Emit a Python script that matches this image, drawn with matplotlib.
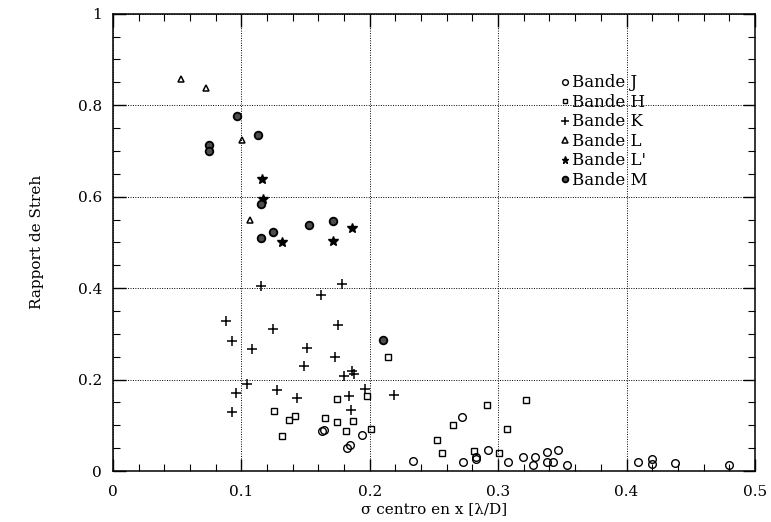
import matplotlib
matplotlib.use("Agg")
import matplotlib.pyplot as plt
from matplotlib.ticker import MultipleLocator

# Données (sigma centro en x, rapport de Strehl)
j_x = [0.163, 0.164, 0.194, 0.1844, 0.1826, 0.2716, 0.234, 0.273, 0.283, 0.283,
       0.292, 0.308, 0.319, 0.329, 0.327, 0.338, 0.347, 0.338, 0.343, 0.354,
       0.4086, 0.4197, 0.4197, 0.438, 0.48]
j_y = [0.0875, 0.09, 0.078, 0.056, 0.051, 0.119, 0.022, 0.020, 0.026, 0.030,
       0.047, 0.019, 0.030, 0.031, 0.013, 0.041, 0.046, 0.0197, 0.0197, 0.0125,
       0.0197, 0.027, 0.0153, 0.018, 0.013]

h_x = [0.1255, 0.137, 0.142, 0.132, 0.1655, 0.1746, 0.1746, 0.1873, 0.1816, 0.198,
       0.201, 0.214, 0.291, 0.265, 0.2527, 0.256, 0.281, 0.301, 0.3066, 0.3214]
h_y = [0.131, 0.1115, 0.120, 0.077, 0.116, 0.158, 0.107, 0.109, 0.0875, 0.163,
       0.0925, 0.250, 0.144, 0.1007, 0.067, 0.039, 0.044, 0.039, 0.091, 0.155]

k_x = [0.088, 0.093, 0.108, 0.104, 0.0955, 0.093, 0.115, 0.178, 0.162, 0.125,
       0.175, 0.151, 0.173, 0.149, 0.186, 0.1875, 0.180, 0.128, 0.1434, 0.196,
       0.1837, 0.185, 0.219]
k_y = [0.329, 0.285, 0.266, 0.191, 0.170, 0.128, 0.405, 0.408, 0.385, 0.311,
       0.319, 0.268, 0.250, 0.230, 0.219, 0.212, 0.208, 0.177, 0.159, 0.179,
       0.163, 0.1335, 0.166]

l_x = [0.0529, 0.0721, 0.1004, 0.107]
l_y = [0.858, 0.837, 0.724, 0.548]

lp_x = [0.116, 0.117, 0.186, 0.1315, 0.171]
lp_y = [0.639, 0.595, 0.531, 0.500, 0.503]

m_x = [0.0967, 0.113, 0.0745, 0.0745, 0.115, 0.153, 0.171, 0.125, 0.115, 0.21]
m_y = [0.777, 0.735, 0.713, 0.700, 0.584, 0.538, 0.546, 0.522, 0.509, 0.287]

x_ticks = [0, 0.1, 0.2, 0.3, 0.4, 0.5]
x_labels = ["0", "0.1", "0.2", "0.3", "0.4", "0.5"]
y_ticks = [0, 0.2, 0.4, 0.6, 0.8, 1]
y_labels = ["0", "0.2", "0.4", "0.6", "0.8", "1"]

plt.rcParams['font.family'] = ['DejaVu Serif']

fig = plt.figure(figsize=(7.71, 5.22), dpi=100)
ax = fig.add_axes([0.1466, 0.0977, 0.8325, 0.876])

ax.plot(j_x, j_y, 'o', mfc='none', mec='black', ms=5.5, mew=1.0, label="Bande J")
ax.plot(h_x, h_y, 's', mfc='none', mec='black', ms=4.5, mew=1.0, label="Bande H")
ax.plot(k_x, k_y, '+', color='black', ms=7.5, mew=1.1, label="Bande K")
ax.plot(l_x, l_y, '^', mfc='none', mec='black', ms=5, mew=1.1, label="Bande L")
ax.plot(lp_x, lp_y, '*', color='black', ms=7, label="Bande L'")
ax.plot(m_x, m_y, 'o', mfc='0.3', mec='black', ms=5.5, mew=1.3, label="Bande M")

ax.set_xlim(0, 0.5)
ax.set_ylim(0, 1)
ax.set_xticks(x_ticks)
ax.set_xticklabels(x_labels)
ax.set_yticks(y_ticks)
ax.set_yticklabels(y_labels)
ax.xaxis.set_minor_locator(MultipleLocator(0.02))
ax.yaxis.set_minor_locator(MultipleLocator(0.05))
ax.tick_params(which='both', direction='in', top=True, right=True, labelsize=11)
ax.tick_params(which='major', length=9, width=1)
ax.tick_params(which='minor', length=5, width=0.8)
ax.tick_params(axis='x', which='major', pad=10)
ax.tick_params(axis='y', which='major', pad=8)
for s in ax.spines.values():
    s.set_linewidth(1.1)

ax.grid(True, which='major', linestyle=(0, (1, 1.5)), color='black', linewidth=0.7)

ax.set_xlabel("σ centro en x [λ/D]", fontsize=11, labelpad=2)
ax.set_ylabel("Rapport de Streh", fontsize=11, labelpad=24)

ax.legend(loc='upper left', bbox_to_anchor=(0.687, 0.882), frameon=False,
          fontsize=12, markerscale=0.75, handlelength=0.5, handletextpad=0.2,
          labelspacing=0.15, borderaxespad=0)

fig.savefig("out.png", dpi=100)
